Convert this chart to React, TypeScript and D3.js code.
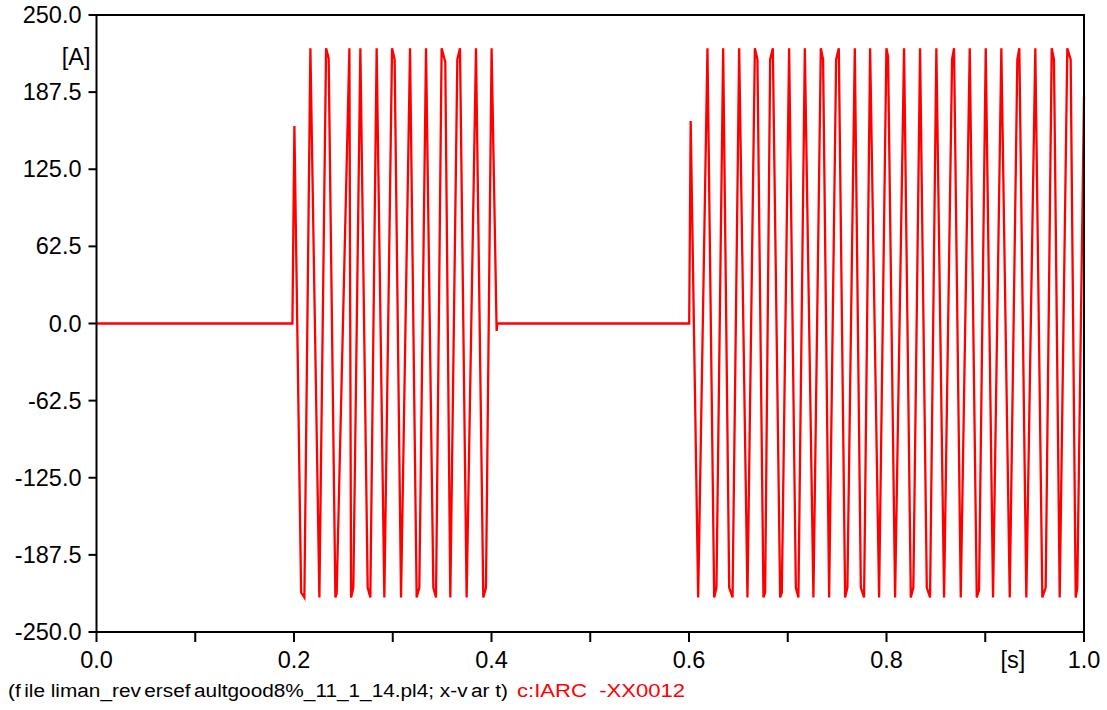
import React from "react";
import * as d3 from "d3";

// ---- Data ----
// Time axis [s] and current [A] vertices of c:IARC -XX0012
const idleTime1 = [0.0, 0.1984];
const idleValue1 = [0, 0];

const burst1Time = [
  0.2004, 0.2072, 0.2105, 0.2166, 0.2257, 0.2325, 0.2351, 0.2419, 0.2432, 0.2561,
  0.2578, 0.2601, 0.2672, 0.2746, 0.2773, 0.2837, 0.2915, 0.2993, 0.3019, 0.3084,
  0.3175, 0.3242, 0.3269, 0.3337, 0.3411, 0.3438, 0.3495, 0.3532, 0.3583, 0.3654,
  0.3681, 0.3748, 0.3843, 0.3917, 0.3944, 0.4001, 0.4052, 0.4059,
];
const burst1Value = [
  160, -218, -222, 223, -222, 223, 215, -222, -219, 223,
  -222, -214, 223, -214, -222, 223, -222, 223, 214, -222,
  223, -222, -214, 223, -214, -222, 223, 212, -222, 214,
  223, -222, 223, -222, -214, 223, -6, 0,
];

const idleTime2 = [0.6002];
const idleValue2 = [0];

const burst2Time = [
  0.6017, 0.6093, 0.6187, 0.6255, 0.6278, 0.6346, 0.6407, 0.6441, 0.6508, 0.6592,
  0.6667, 0.6693, 0.6754, 0.6771, 0.6822, 0.6849, 0.6923, 0.694, 0.7014, 0.7082,
  0.7108, 0.7173, 0.726, 0.7335, 0.7358, 0.7419, 0.749, 0.7517, 0.7581, 0.7604,
  0.7679, 0.774, 0.7773, 0.7834, 0.7925, 0.7999, 0.8016, 0.8087, 0.8178, 0.8246,
  0.8272, 0.834, 0.8408, 0.8441, 0.8505, 0.8583, 0.8664, 0.8684, 0.8752, 0.8843,
  0.8914, 0.8937, 0.9005, 0.9079, 0.9163, 0.9248, 0.9325, 0.9345, 0.9416, 0.9507,
  0.9578, 0.9612, 0.9673, 0.9696, 0.9754, 0.9831, 0.9865, 0.9916, 0.9932, 1.0,
];
const burst2Value = [
  164, -222, 223, -222, -214, 223, -214, -222, 223, -222,
  223, 214, -222, -218, 214, 223, -222, -218, 223, -214,
  -222, 223, -222, 223, 214, -222, 214, 223, -222, -214,
  223, -214, -222, 223, -222, 223, 216, -222, 223, -222,
  -214, 223, -214, -222, 223, -222, 214, 223, -222, 223,
  -222, -216, 223, -222, 223, -222, 214, 223, -222, 223,
  -222, -214, 223, 214, -222, 223, 214, -222, -214, 184,
];

const yTicks = [-250, -187.5, -125, -62.5, 0, 62.5, 125, 187.5, 250];
const xTicks = [0, 0.1, 0.2, 0.3, 0.4, 0.5, 0.6, 0.7, 0.8, 0.9, 1.0];
const xLabelTicks = [0, 0.2, 0.4, 0.6, 0.8, 1.0];
const xUnit = "[s]";
const yUnit = "[A]";
const footerFile = ["(f", "ile liman_rev", "ersef", "aultgood8%_11_1_14.pl4; x-v", "ar t)"];
const footerSeries = "c:IARC  -XX0012";

const W = 1107;
const H = 710;
const M = { left: 96.5, right: 1084, top: 15, bottom: 632 };
const FONT = "'Liberation Sans', Arial, sans-serif";

export default function App() {
  const x = d3.scaleLinear().domain([0, 1]).range([M.left, M.right]);
  const y = d3.scaleLinear().domain([-250, 250]).range([M.bottom, M.top]);

  const times = [...idleTime1, ...burst1Time, ...idleTime2, ...burst2Time];
  const values = [...idleValue1, ...burst1Value, ...idleValue2, ...burst2Value];
  const pts: [number, number][] = times.map((t, i) => [t, values[i]]);

  const line = d3
    .line<[number, number]>()
    .x((d) => x(d[0]))
    .y((d) => y(d[1]));

  return (
    <svg
      width={W}
      height={H}
      style={{ position: "absolute", left: 0, top: 0, background: "#fff" }}
      fontFamily={FONT}
    >
      <rect x={0} y={0} width={W} height={H} fill="#fff" />
      <path d={line(pts) || ""} fill="none" stroke="#ff0000" strokeWidth={2.3} strokeLinejoin="miter" />

      {/* frame */}
      <rect
        x={M.left}
        y={M.top}
        width={M.right - M.left}
        height={M.bottom - M.top}
        fill="none"
        stroke="#000"
        strokeWidth={2}
      />

      {/* y ticks */}
      {yTicks.map((v) => (
        <g key={"y" + v}>
          <line x1={M.left - 8} x2={M.left} y1={y(v)} y2={y(v)} stroke="#000" strokeWidth={2} />
          <text
            x={M.left - 15}
            y={y(v)}
            textAnchor="end"
            dominantBaseline="central"
            fontSize={23.5}
            fill="#000"
          >
            {v.toFixed(1)}
          </text>
        </g>
      ))}
      <text x={M.left - 6} y={y(216)} textAnchor="end" dominantBaseline="central" fontSize={23.5} fill="#000">
        {yUnit}
      </text>

      {/* x ticks */}
      {xTicks.map((t) => (
        <line key={"x" + t} x1={x(t)} x2={x(t)} y1={M.bottom} y2={M.bottom + 10} stroke="#000" strokeWidth={2} />
      ))}
      {xLabelTicks.map((t) => (
        <text key={"xl" + t} x={x(t)} y={668} textAnchor="middle" fontSize={23.5} fill="#000">
          {t.toFixed(1)}
        </text>
      ))}
      <text x={x(0.928)} y={668} textAnchor="middle" fontSize={23.5} fill="#000">
        {xUnit}
      </text>

      {/* footer */}
      <text x={8} y={697} fontSize={18} fill="#000" textLength={500} lengthAdjust="spacingAndGlyphs">
        {footerFile.map((s, i) => (
          <tspan key={i} dx={i === 0 ? 0 : 3}>
            {s}
          </tspan>
        ))}
      </text>
      <text
        x={517}
        y={697}
        fontSize={18}
        fill="#ff0000"
        style={{ whiteSpace: "pre" }}
        textLength={168}
        lengthAdjust="spacingAndGlyphs"
      >
        {footerSeries}
      </text>
    </svg>
  );
}
